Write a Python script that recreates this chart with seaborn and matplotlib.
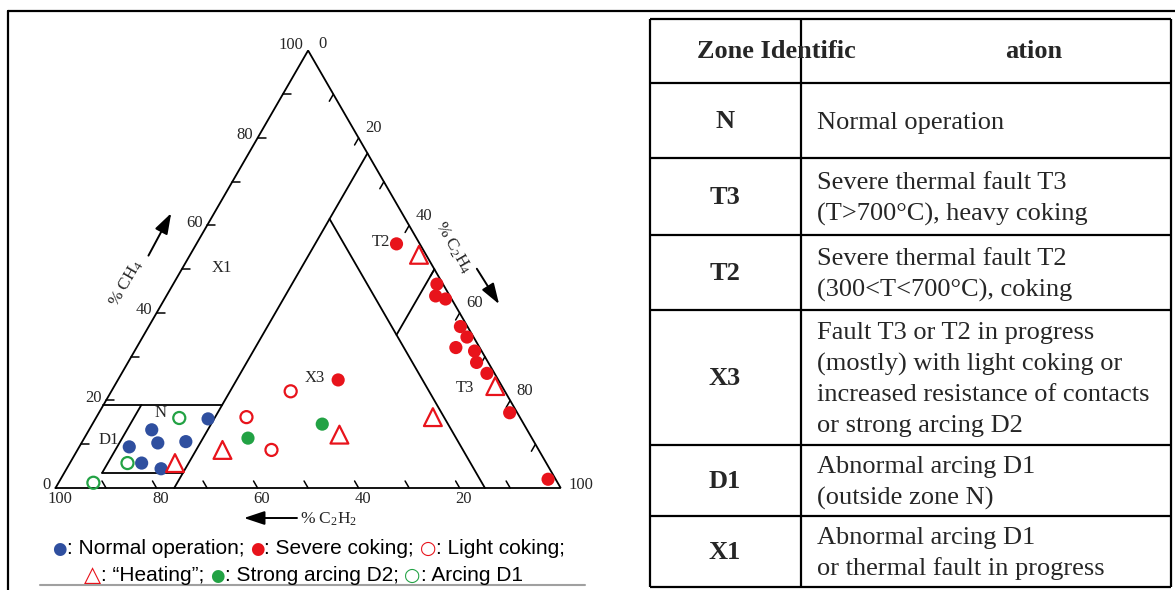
import numpy as np
import pandas as pd
import matplotlib
matplotlib.use("Agg")
import matplotlib.pyplot as plt
import seaborn as sns
from matplotlib.offsetbox import TextArea, HPacker, AnnotationBbox

sns.set_style("white")
plt.rcParams["font.family"] = ["Liberation Serif", "DejaVu Serif"]
plt.rcParams["mathtext.fontset"] = "stix"

# ---- gas composition of each sample: % CH4, % C2H4, % C2H2 ----
normal_ch4 = [15.8, 13.3, 10.3, 10.6, 9.4, 5.7, 4.4]
normal_c2h4 = [22.3, 12.4, 15.1, 20.5, 9.9, 14.2, 18.7]
normal_c2h2 = [61.9, 74.3, 74.6, 68.9, 80.7, 80.1, 76.9]

severe_ch4 = [24.7, 55.8, 46.6, 43.9, 43.2, 36.9, 34.5, 32.1, 31.3, 28.7, 26.2, 17.2, 2.0]
severe_c2h4 = [43.6, 39.6, 52.2, 53.3, 55.6, 61.7, 64.2, 63.2, 67.3, 69.0, 72.3, 81.3, 96.5]
severe_c2h2 = [31.7, 4.6, 1.2, 2.8, 1.2, 1.4, 1.3, 4.7, 1.4, 2.3, 1.5, 1.5, 1.5]

light_ch4 = [22.1, 16.2, 8.7]
light_c2h4 = [35.5, 29.7, 38.4]
light_c2h2 = [42.4, 54.1, 52.9]

heating_ch4 = [5.7, 8.7, 12.2, 53.3, 23.3, 16.2]
heating_c2h4 = [20.8, 28.7, 50.1, 45.3, 75.4, 66.6]
heating_c2h2 = [73.5, 62.6, 37.7, 1.4, 1.3, 17.2]

d2_ch4 = [11.4, 14.6]
d2_c2h4 = [32.4, 45.5]
d2_c2h2 = [56.2, 39.9]

d1_ch4 = [16.0, 5.7, 1.2]
d1_c2h4 = [16.5, 11.4, 6.9]
d1_c2h2 = [67.5, 82.9, 91.9]

# zone boundaries as (CH4, C2H4) end points
zone_edges = [
    ((0, 23.5), (76.5, 23.5)),
    ((0, 85.0), (61.5, 23.5)),
    ((50, 50.0), (35, 50.0)),
    ((19, 0.0), (19, 23.5)),
    ((3.5, 7.5), (19, 7.5)),
    ((3.5, 7.5), (3.5, 23.5)),
]
zone_labels = ["X1", "T2", "X3", "T3", "N", "D1"]

axis_ticks = [0, 20, 40, 60, 80, 100]

table_zones = ["N", "T3", "T2", "X3", "D1", "X1"]
table_text = [
    ["Normal operation"],
    ["Severe thermal fault T3", "(T>700°C), heavy coking"],
    ["Severe thermal fault T2", "(300<T<700°C), coking"],
    ["Fault T3 or T2 in progress", "(mostly) with light coking or",
     "increased resistance of contacts", "or strong arcing D2"],
    ["Abnormal arcing D1", "(outside zone N)"],
    ["Abnormal arcing D1", "or thermal fault in progress"],
]

BLUE = "#2f4f9f"
RED = "#e8131b"
GREEN = "#22a244"
H = np.sqrt(3) / 2


def to_xy(ch4, c2h4):
    ch4 = np.asarray(ch4, float)
    c2h4 = np.asarray(c2h4, float)
    return c2h4 + ch4 / 2, ch4 * H


groups = [
    ("Normal operation", normal_ch4, normal_c2h4, normal_c2h2),
    ("Severe coking", severe_ch4, severe_c2h4, severe_c2h2),
    ("Light coking", light_ch4, light_c2h4, light_c2h2),
    ("Heating", heating_ch4, heating_c2h4, heating_c2h2),
    ("Strong arcing D2", d2_ch4, d2_c2h4, d2_c2h2),
    ("Arcing D1", d1_ch4, d1_c2h4, d1_c2h2),
]
frames = []
for name, m, e, a in groups:
    x, y = to_xy(m, e)
    frames.append(pd.DataFrame({"group": name, "CH4": m, "C2H4": e, "C2H2": a, "x": x, "y": y}))
df = pd.concat(frames, ignore_index=True)

styles = {
    "Normal operation": dict(marker="o", s=90, color=BLUE, edgecolor="none", linewidth=0),
    "Severe coking": dict(marker="o", s=90, color=RED, edgecolor="none", linewidth=0),
    "Light coking": dict(marker="o", s=75, color=RED, facecolor="none", edgecolor=RED, linewidth=1.6),
    "Heating": dict(marker="^", s=165, color=RED, facecolor="none", edgecolor=RED, linewidth=1.6),
    "Strong arcing D2": dict(marker="o", s=90, color=GREEN, edgecolor="none", linewidth=0),
    "Arcing D1": dict(marker="o", s=75, color=GREEN, facecolor="none", edgecolor=GREEN, linewidth=1.6),
}

W, HGT = 1175, 590
fig = plt.figure(figsize=(W / 100, HGT / 100), dpi=100)

# page layer in pixel units: frame, table, legend
pg = fig.add_axes([0, 0, 1, 1])
pg.set_xlim(0, W)
pg.set_ylim(HGT, 0)
pg.axis("off")

# ternary layer: one data unit = one percent of the triangle side
scale = 5.052
x0_px, y0_px = 55.5, 488.0
ax = fig.add_axes([0, 0, 600 / W, 1])
ax.set_xlim(-x0_px / scale, (600 - x0_px) / scale)
ax.set_ylim(-(HGT - y0_px) / scale, y0_px / scale)
ax.axis("off")

LW = 1.3
# outer triangle
tri_x, tri_y = to_xy([0, 0, 100, 0], [0, 100, 0, 0])
ax.plot(tri_x, tri_y, color="k", lw=LW, solid_joinstyle="miter")

# zone boundaries
for (m1, e1), (m2, e2) in zone_edges:
    xs, ys = to_xy([m1, m2], [e1, e2])
    ax.plot(xs, ys, color="k", lw=LW)

# ticks on the three sides, pointing into the triangle
tl = 1.6
for v in range(10, 100, 10):
    lx, ly = to_xy(v, 0)
    ax.plot([lx, lx + tl], [ly, ly], color="k", lw=1.1)
    rx, ry = to_xy(100 - v, v)
    ax.plot([rx, rx - 0.5 * tl], [ry, ry - H * tl], color="k", lw=1.1)
    bx, by = to_xy(0, 100 - v)
    ax.plot([bx, bx - 0.5 * tl], [by, by + H * tl], color="k", lw=1.1)

tick_fs = 12
for v in axis_ticks:
    # % CH4 on the left side
    lx, ly = to_xy(v, 0)
    dy = 1.0 if v == 100 else 0.5
    ax.text(lx - 0.9, ly + dy, str(v), ha="right", va="center", fontsize=tick_fs)
    # % C2H4 on the right side
    rx, ry = to_xy(100 - v, v)
    if v == 0:
        off = (2.0, 1.2)
    elif v == 100:
        off = (1.5, 0.6)
    else:
        off = (1.3, 1.9)
    ax.text(rx + off[0], ry + off[1], str(v), ha="left", va="center", fontsize=tick_fs)
    # % C2H2 along the bottom
    if v > 0:
        bx, by = to_xy(0, 100 - v)
        ax.text(bx + 0.8, by - 2.2, str(v), ha="center", va="center", fontsize=tick_fs)

# axis titles with direction arrows
title_fs = 12.5
ax.text(14.0, 40.4, "% $\\mathregular{CH_4}$", rotation=60, ha="center", va="center",
        fontsize=title_fs, rotation_mode="anchor")
ax.text(78.6, 47.6, "% $\\mathregular{C_2H_4}$", rotation=-60, ha="center", va="center",
        fontsize=title_fs, rotation_mode="anchor")
ax.text(48.4, -6.1, "% $\\mathregular{C_2H_2}$", ha="left", va="center", fontsize=title_fs)
arrow = dict(arrowstyle="-|>,head_length=0.9,head_width=0.3", color="k", lw=1.4,
             mutation_scale=14, shrinkA=0, shrinkB=0)
ax.annotate("", xy=(22.9, 54.4), xytext=(18.4, 46.0), arrowprops=arrow)
ax.annotate("", xy=(87.8, 36.4), xytext=(83.4, 43.4), arrowprops=arrow)
ax.annotate("", xy=(37.3, -5.94), xytext=(47.8, -5.94), arrowprops=arrow)

# zone names
zone_pos = {"X1": (33.0, 43.5, "center"), "T2": (66.3, 48.6, "right"),
            "X3": (51.3, 21.8, "center"), "T3": (81.0, 19.8, "center"),
            "N": (20.7, 14.8, "center"), "D1": (10.5, 9.6, "center")}
for z in zone_labels:
    zx, zy, ha = zone_pos[z]
    ax.text(zx, zy, z, ha=ha, va="center", fontsize=12)

# samples
for name, _, _, _ in groups:
    sub = df[df["group"] == name]
    sns.scatterplot(data=sub, x="x", y="y", ax=ax, legend=False, zorder=4, **styles[name])
ax.set_xlabel("")
ax.set_ylabel("")
ax.axis("off")

# marker key below the triangle
sans = ["Liberation Sans", "DejaVu Sans"]
key_fs = 15
sym_fs = {"●": 12, "○": 13.5, "△": 16}


def key_line(parts, xy):
    boxes = []
    for t, c in parts:
        if t in sym_fs:
            props = dict(color=c, fontsize=sym_fs[t], family="DejaVu Sans")
        else:
            props = dict(color=c, fontsize=key_fs, family=sans)
        boxes.append(TextArea(t, textprops=props))
    pack = HPacker(children=boxes, align="baseline", pad=0, sep=0)
    pg.add_artist(AnnotationBbox(pack, xy, xycoords="data", frameon=False,
                                 box_alignment=(0.5, 0.5), pad=0))


key_line([("●", BLUE), (": Normal operation; ", "k"),
          ("●", RED), (": Severe coking; ", "k"),
          ("○", RED), (": Light coking;", "k")], (308.5, 548))
key_line([("△", RED), (": \u201cHeating\u201d; ", "k"),
          ("●", GREEN), (": Strong arcing D2; ", "k"),
          ("○", GREEN), (": Arcing D1", "k")], (303.5, 575))
pg.plot([40, 585], [585, 585], color="#a0a0a0", lw=1.5)

# page frame
pg.plot([8, W], [11, 11], color="k", lw=1.6)
pg.plot([8, 8], [11, HGT], color="k", lw=1.6)

# zone identification table
t_left, t_mid, t_right = 650, 801, 1171
row_edges = [19, 83, 158, 235, 310, 445, 516, 587]
pg.hlines(row_edges, t_left, t_right, color="k", lw=1.6)
pg.vlines([t_left, t_mid, t_right], row_edges[0], row_edges[-1], color="k", lw=1.6)
tab_fs = 19
line_gap = 31
pg.text(697, 52, "Zone Identific", ha="left", va="center", fontsize=tab_fs, fontweight="bold")
pg.text(1005, 52, "ation", ha="left", va="center", fontsize=tab_fs, fontweight="bold")
for i, (z, lines) in enumerate(zip(table_zones, table_text)):
    yc = (row_edges[i + 1] + row_edges[i + 2]) / 2
    pg.text(725, yc + 1, z, ha="center", va="center", fontsize=tab_fs, fontweight="bold")
    first = yc - line_gap * (len(lines) - 1) / 2
    for k, line in enumerate(lines):
        pg.text(817, first + k * line_gap + 2, line, ha="left", va="center", fontsize=tab_fs)

fig.savefig("out.png", dpi=100, facecolor="white")
